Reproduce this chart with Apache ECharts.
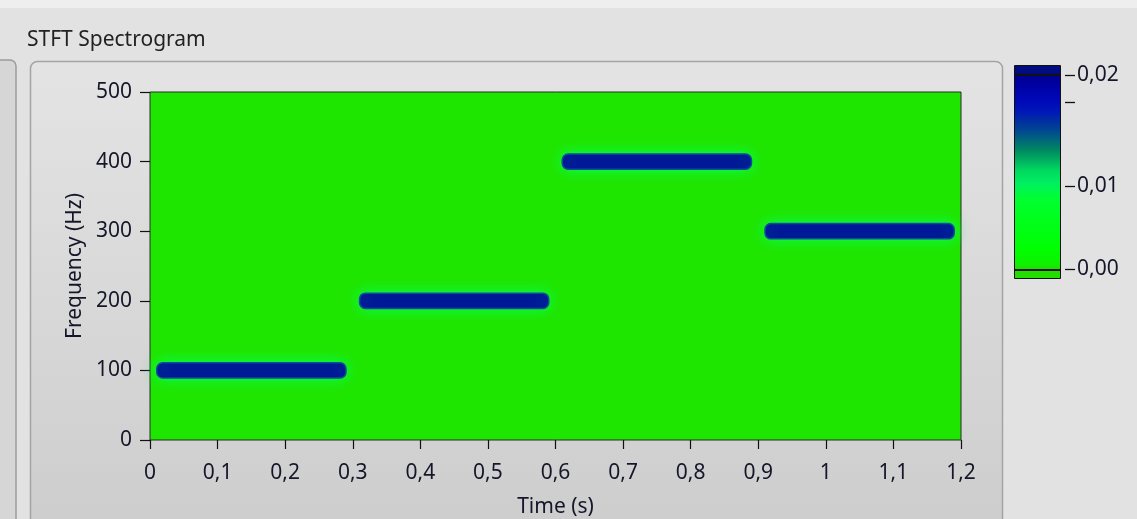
<!DOCTYPE html>
<html>
<head>
<meta charset="utf-8">
<script src="https://cdn.jsdelivr.net/npm/echarts@6/dist/echarts.min.js"></script>
<style>
  html, body { margin: 0; padding: 0; background: #e2e2e2; }
  #chart { width: 1137px; height: 519px; }
</style>
</head>
<body>
<div id="chart"></div>
<script>
// STFT spectrogram of a tone hopping through four frequencies
const tOn = [0.01, 0.31, 0.61, 0.91];          // segment start (s)
const tOff = [0.29, 0.59, 0.89, 1.19];         // segment end (s)
const freqHz = [100, 200, 400, 300];           // tone frequency (Hz)
const magnitude = [0.0225, 0.0225, 0.0225, 0.0225];
const bandHalfWidthHz = [11, 11, 11, 11];      // half of the main-lobe width

// colour scale
const scaleMax = 0.0233;
const scaleTickValues = [0, 0.01, 0.02, 0.0233];
const scaleLabelValues = [0, 0.01, 0.0233];
const rampPos = [0, 0.02, 0.10, 0.36, 0.44, 0.51, 0.56, 0.61, 0.66, 0.71, 0.76, 0.81, 0.87, 0.96, 1];
const rampColor = ['#20dc00', '#10f000', '#00ff00', '#00ff30', '#00f060', '#00d860', '#00b060',
                   '#008a60', '#006a78', '#004a90', '#0030a0', '#0018b8', '#0008b8', '#0000a0', '#000090'];

const FONT = 'Noto Sans';
const FS = 21;
const TXT = '#16162a';

function rampColorAt(v) {
  const f = Math.max(0, Math.min(1, v / scaleMax));
  for (let i = 1; i < rampPos.length; i++) {
    if (f <= rampPos[i]) {
      const t = (f - rampPos[i - 1]) / (rampPos[i] - rampPos[i - 1]);
      return echarts.color.lerp(t, [rampColor[i - 1], rampColor[i]]);
    }
  }
  return rampColor[rampColor.length - 1];
}

const comma = (v, d) => (d == null ? String(+v.toFixed(2)) : v.toFixed(d)).replace('.', ',');

const bands = tOn.map((t, i) => [t, tOff[i], freqHz[i], magnitude[i], bandHalfWidthHz[i]]);

const chart = echarts.init(document.getElementById('chart'), null, { renderer: 'canvas' });

chart.setOption({
  animation: false,
  backgroundColor: '#e2e2e2',
  graphic: [
    { type: 'rect', z: -20, shape: { x: 0, y: 0, width: 1137, height: 8 }, style: { fill: '#eeeeee' } },
    { type: 'rect', z: -20, shape: { x: -12, y: 60, width: 28, height: 480, r: 6 },
      style: { fill: '#d6d6d6', stroke: '#9c9c9c', lineWidth: 1.5 } },
    { type: 'rect', z: -20, shape: { x: 30.5, y: 61.5, width: 972, height: 470, r: 7 },
      style: {
        fill: new echarts.graphic.LinearGradient(0, 0, 0, 1, [
          { offset: 0, color: '#e4e4e4' }, { offset: 1, color: '#cdcdcd' }
        ]),
        stroke: '#a4a4a4', lineWidth: 1.5
      } },
    { type: 'text', z: 5, left: 27, top: 30,
      style: { text: 'STFT Spectrogram', font: FS + 'px "' + FONT + '"', fill: '#222' } },
    // colour bar frame, out-of-range strips and markers
    { type: 'rect', z: 5, shape: { x: 1015, y: 66, width: 45, height: 9 }, style: { fill: '#000c80' } },
    { type: 'rect', z: 5, shape: { x: 1015, y: 270, width: 45, height: 9 }, style: { fill: '#22dd00' } },
    { type: 'rect', z: 6, shape: { x: 1015, y: 74, width: 45, height: 2 }, style: { fill: '#111' } },
    { type: 'rect', z: 6, shape: { x: 1015, y: 269, width: 45, height: 2 }, style: { fill: '#111' } },
    { type: 'rect', z: 7, shape: { x: 1014.5, y: 65.5, width: 46, height: 213 },
      style: { fill: 'none', stroke: '#111', lineWidth: 1 } }
  ],
  grid: [
    { left: 150, top: 92, width: 811, height: 348, show: true, outerBoundsMode: 'none',
      backgroundColor: '#1fe600', borderColor: '#2a2a2a', borderWidth: 1 },
    { left: 1015, top: 75, width: 45, height: 194, outerBoundsMode: 'none' }
  ],
  xAxis: [
    {
      gridIndex: 0, type: 'value', min: 0, max: 1.2, interval: 0.1, offset: 4,
      axisLine: { show: false },
      axisTick: { show: true, length: 9, lineStyle: { color: '#111', width: 1.2 } },
      splitLine: { show: false },
      axisLabel: { margin: 19, fontFamily: FONT, fontSize: FS, color: TXT,
        formatter: v => comma(v) },
      name: 'Time (s)', nameLocation: 'middle', nameGap: 53,
      nameTextStyle: { fontFamily: FONT, fontSize: FS, color: TXT }
    },
    { gridIndex: 1, type: 'value', min: 0, max: 1, show: false }
  ],
  yAxis: [
    {
      gridIndex: 0, type: 'value', min: 0, max: 500, interval: 100, offset: 2,
      axisLine: { show: false },
      axisTick: { show: true, length: 10, lineStyle: { color: '#111', width: 1.2 } },
      splitLine: { show: false },
      axisLabel: { margin: 16, fontFamily: FONT, fontSize: FS, color: TXT },
      name: 'Frequency (Hz)', nameLocation: 'middle', nameGap: 56,
      nameTextStyle: { fontFamily: FONT, fontSize: FS, color: TXT }
    },
    {
      gridIndex: 1, type: 'value', position: 'right', min: 0, max: scaleMax, offset: 4,
      axisLine: { show: false },
      axisTick: { show: false },
      splitLine: { show: false },
      axisLabel: { margin: 13, fontFamily: FONT, fontSize: FS, color: TXT,
        customValues: scaleLabelValues, formatter: v => comma(v, 2) }
    }
  ],
  series: [
    {
      type: 'custom', name: 'spectrogram', xAxisIndex: 0, yAxisIndex: 0,
      data: bands,
      encode: { x: [0, 1], y: 2 },
      renderItem: (params, api) => {
        const hw = api.value(4);
        const p0 = api.coord([api.value(0), api.value(2) + hw]);
        const p1 = api.coord([api.value(1), api.value(2) - hw]);
        const h = p1[1] - p0[1];
        return {
          type: 'rect',
          shape: { x: p0[0], y: p0[1], width: p1[0] - p0[0], height: h, r: h / 2.6 },
          style: {
            fill: rampColorAt(api.value(3)),
            stroke: '#08509a', lineWidth: 1.5,
            shadowBlur: 14, shadowColor: 'rgba(0,255,90,1)'
          }
        };
      }
    },
    {
      type: 'custom', name: 'colour scale', xAxisIndex: 1, yAxisIndex: 1,
      data: [[0, scaleMax]],
      renderItem: (params, api) => {
        const a = api.coord([0, api.value(0)]);
        const b = api.coord([1, api.value(1)]);
        return {
          type: 'rect',
          shape: { x: a[0], y: b[1], width: b[0] - a[0], height: a[1] - b[1] },
          style: {
            fill: new echarts.graphic.LinearGradient(0, 1, 0, 0,
              rampPos.map((p, i) => ({ offset: p, color: rampColor[i] })))
          }
        };
      }
    },
    {
      // tick marks of the colour scale
      type: 'custom', name: 'scale ticks', xAxisIndex: 1, yAxisIndex: 1,
      data: scaleTickValues.map(v => [1, v]),
      clip: false,
      renderItem: (params, api) => {
        const p = api.coord([api.value(0), api.value(1)]);
        return {
          type: 'line',
          shape: { x1: p[0] + 5, y1: Math.round(p[1]) + 0.5, x2: p[0] + 15, y2: Math.round(p[1]) + 0.5 },
          style: { stroke: '#111', lineWidth: 1.3 }
        };
      }
    }
  ]
});
</script>
</body>
</html>
